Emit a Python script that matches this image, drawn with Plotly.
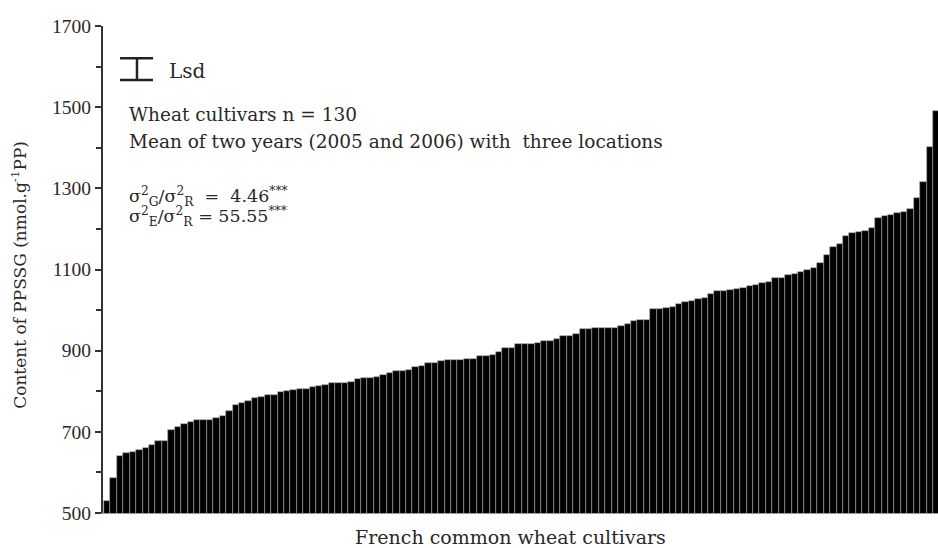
import plotly.graph_objects as go

# Content of PPSSG for 130 French common wheat cultivars, sorted ascending
cultivar_index = list(range(1, 131))
ppssg_values = [
    530, 586, 641, 647, 650, 655, 660, 668, 678, 678,
    705, 712, 720, 724, 728, 730, 730, 735, 740, 752,
    767, 772, 776, 783, 785, 791, 791, 797, 800, 802,
    805, 806, 810, 812, 815, 820, 820, 820, 824, 830,
    833, 833, 835, 841, 845, 849, 851, 852, 860, 862,
    870, 870, 874, 876, 876, 878, 879, 880, 886, 886,
    890, 896, 906, 906, 917, 917, 917, 918, 923, 923,
    929, 935, 935, 940, 954, 954, 956, 956, 956, 956,
    960, 966, 972, 975, 975, 1003, 1003, 1005, 1008, 1016,
    1020, 1023, 1028, 1030, 1040, 1048, 1048, 1049, 1051, 1055,
    1059, 1062, 1067, 1070, 1078, 1080, 1086, 1090, 1094, 1098,
    1103, 1116, 1135, 1156, 1164, 1182, 1190, 1193, 1195, 1203,
    1228, 1232, 1234, 1240, 1242, 1250, 1277, 1316, 1402, 1490,
]
y_tick_values = [500, 700, 900, 1100, 1300, 1500, 1700]

serif = "DejaVu Serif, serif"
tick_serif = "Liberation Serif, Times New Roman, serif"
text_col = "#2b2827"

fig = go.Figure()
fig.add_trace(go.Bar(
    x=cultivar_index,
    y=ppssg_values,
    base=0,
    marker=dict(color="#000000", line=dict(color="#a0a0a0", width=0.6)),
    hoverinfo="y",
))

fig.update_layout(
    width=938, height=548,
    margin=dict(l=103, r=0, t=26, b=35),
    paper_bgcolor="white", plot_bgcolor="white",
    bargap=0,
    showlegend=False,
    font=dict(family=serif, color=text_col),
    xaxis=dict(
        range=[0.345, 130.28],
        showticklabels=False, ticks="",
        showgrid=False, zeroline=False,
        showline=True, linecolor="#9a9a9a", linewidth=1,
    ),
    yaxis=dict(
        range=[500, 1700],
        tickvals=y_tick_values,
        ticks="outside", ticklen=6, tickwidth=2, tickcolor="#333333",
        tickfont=dict(family=tick_serif, size=19.5, color=text_col),
        showgrid=False, zeroline=False,
        showline=True, linecolor="#333333", linewidth=2,
        minor=dict(ticks="outside", dtick=100, tick0=500, ticklen=5,
                   tickwidth=2, tickcolor="#333333"),
    ),
)

# Lsd I-beam symbol
lsd_line = dict(color="#222222", width=2.5)
fig.add_shape(type="line", xref="paper", yref="paper",
              x0=0.0204, x1=0.0599, y0=0.934, y1=0.934, line=lsd_line)
fig.add_shape(type="line", xref="paper", yref="paper",
              x0=0.0204, x1=0.0599, y0=0.889, y1=0.889, line=lsd_line)
fig.add_shape(type="line", xref="paper", yref="paper",
              x0=0.0407, x1=0.0407, y0=0.889, y1=0.934, line=lsd_line)

def note(text, x, y, size, **kw):
    fig.add_annotation(text=text, xref="paper", yref="paper", x=x, y=y,
                       xanchor=kw.get("xanchor", "left"), yanchor="middle",
                       showarrow=False, textangle=kw.get("angle", 0),
                       font=dict(family=serif, size=size, color=text_col))

note("Lsd", 0.0766, 0.9076, 20)
note("Wheat cultivars n = 130", 0.0287, 0.819, 18.5)
note("Mean of two years (2005 and 2006) with  three locations", 0.0287, 0.762, 18.5)
note("σ<sup>2</sup><sub>G</sub>/σ<sup>2</sup><sub>R</sub>  =  4.46<sup>***</sup>",
     0.0287, 0.649, 17.5)
note("σ<sup>2</sup><sub>E</sub>/σ<sup>2</sup><sub>R</sub> = 55.55<sup>***</sup>",
     0.0287, 0.608, 17.5)

# Axis titles
note("Content of PPSSG (nmol.g<sup>-1</sup>PP)", -0.1006, 0.489, 17,
     angle=-90, xanchor="center")
note("French common wheat cultivars", 0.4886, -0.0493, 19, xanchor="center")

fig.write_html(
    "out.html",
    config={"displayModeBar": False},
    post_script="document.body.style.margin='0px';document.body.style.overflow='hidden';",
)
